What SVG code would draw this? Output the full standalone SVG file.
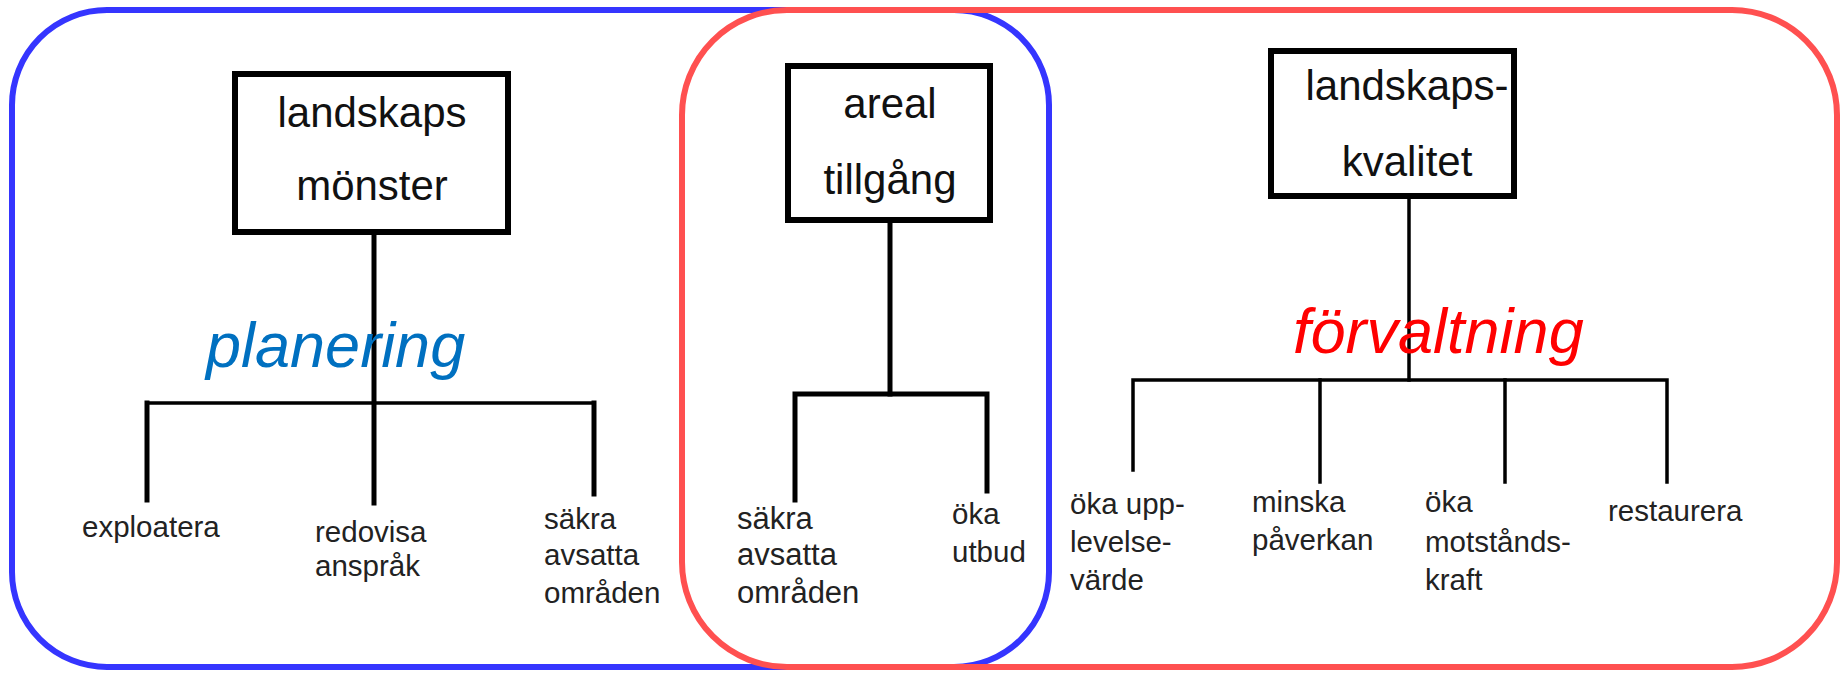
<svg xmlns="http://www.w3.org/2000/svg" width="1843" height="674" viewBox="0 0 1843 674">
<style>
.frame{fill:none;stroke-width:6}
.box{fill:#fff;stroke:#000;stroke-width:6}
.ln{fill:none;stroke:#000;stroke-width:5;stroke-linecap:square}
.ln2{fill:none;stroke:#000;stroke-width:3.5;stroke-linecap:square}
.t{font-family:"Liberation Sans",Arial,sans-serif;font-size:42px;fill:#111;text-anchor:middle}
.lbl{font-family:"Liberation Sans",Arial,sans-serif;font-size:29.5px;fill:#222}
.lblw{font-family:"Liberation Sans",Arial,sans-serif;font-size:31px;fill:#222}
.big{font-family:"Liberation Sans",Arial,sans-serif;font-size:63px;font-style:italic}
</style>
<rect width="1843" height="674" fill="#fff"/>
<g id="frames">
<rect id="blue-frame" class="frame" x="12" y="10" width="1037" height="657" rx="95" stroke="#3535FF"/>
<rect id="red-frame" class="frame" x="682" y="10" width="1155" height="657" rx="105" stroke="#FF5050"/>
</g>
<g id="connectors">
<path class="ln" d="M374 232 V503"/>
<path class="ln2" d="M147 500 V403 H594"/>
<path class="ln" d="M147 403 V500"/>
<path class="ln" d="M594 403 V494"/>
<path class="ln" d="M890 220 V394"/>
<path class="ln" d="M795 500 V394 H987 V491"/>
<path class="ln2" d="M1409 196 V380"/>
<path class="ln2" d="M1133 470 V380 H1667 V482"/>
<path class="ln2" d="M1320 380 V482"/>
<path class="ln2" d="M1505 380 V482"/>
</g>
<g id="node-landskapsmonster">
<rect class="box" x="235" y="74" width="273" height="158"/>
<text class="t" x="372" y="127">landskaps</text>
<text class="t" x="372" y="200">mönster</text>
</g>
<g id="node-arealtillgang">
<rect class="box" x="788" y="66" width="202" height="154"/>
<text class="t" x="890" y="118">areal</text>
<text class="t" x="890" y="194">tillgång</text>
</g>
<g id="node-landskapskvalitet">
<rect class="box" x="1271" y="51" width="243" height="145"/>
<text class="t" x="1407" y="100">landskaps-</text>
<text class="t" x="1407" y="176">kvalitet</text>
</g>
<g id="label-planering"><text class="big" x="206" y="367" fill="#0070C0">planering</text></g>
<g id="label-forvaltning"><text class="big" x="1293" y="353" fill="#FF0000">förvaltning</text></g>
<g id="leaf-exploatera"><text class="lbl" x="82" y="537">exploatera</text></g>
<g id="leaf-redovisa"><text class="lbl" x="315" y="542">redovisa</text><text class="lbl" x="315" y="576">anspråk</text></g>
<g id="leaf-sakra1"><text class="lbl" x="544" y="529">säkra</text><text class="lbl" x="544" y="565">avsatta</text><text class="lbl" x="544" y="603">områden</text></g>
<g id="leaf-sakra2"><text class="lblw" x="737" y="529">säkra</text><text class="lblw" x="737" y="565">avsatta</text><text class="lblw" x="737" y="603">områden</text></g>
<g id="leaf-okautbud"><text class="lbl" x="952" y="524">öka</text><text class="lbl" x="952" y="562">utbud</text></g>
<g id="leaf-okauppleva"><text class="lbl" x="1070" y="514">öka upp-</text><text class="lbl" x="1070" y="552">levelse-</text><text class="lbl" x="1070" y="590">värde</text></g>
<g id="leaf-minska"><text class="lbl" x="1252" y="512">minska</text><text class="lbl" x="1252" y="550">påverkan</text></g>
<g id="leaf-okamot"><text class="lbl" x="1425" y="512">öka</text><text class="lbl" x="1425" y="552">motstånds-</text><text class="lbl" x="1425" y="590">kraft</text></g>
<g id="leaf-restaurera"><text class="lbl" x="1608" y="521">restaurera</text></g>
</svg>
